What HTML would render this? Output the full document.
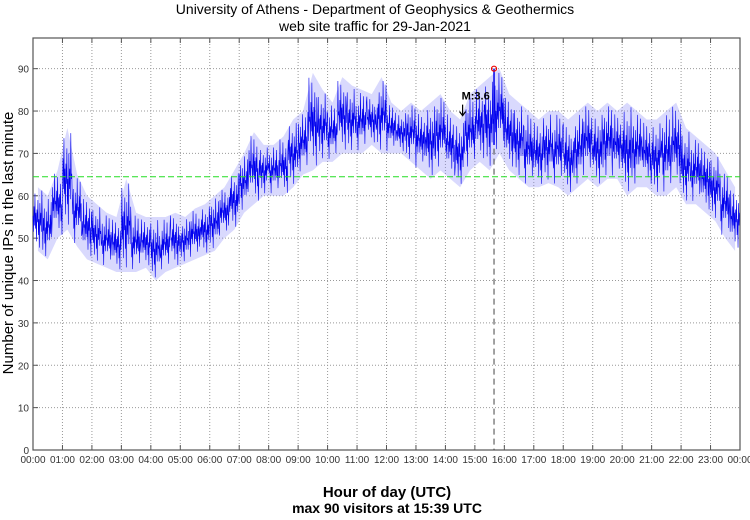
<!DOCTYPE html>
<html><head><meta charset="utf-8"><style>
body{margin:0;background:#fff;width:750px;height:515px;overflow:hidden;font-family:"Liberation Sans",sans-serif}
</style></head><body>
<svg id="chart" width="750" height="515" xmlns="http://www.w3.org/2000/svg">
<text x="375" y="14" font-size="14" text-anchor="middle" fill="#000">University of Athens - Department of Geophysics &amp; Geothermics</text>
<text x="375" y="31" font-size="14" text-anchor="middle" fill="#000">web site traffic for 29-Jan-2021</text>
<text transform="translate(13,243) rotate(-90)" font-size="15" text-anchor="middle">Number of unique IPs in the last minute</text>
<text x="387" y="497" font-size="15" font-weight="bold" text-anchor="middle">Hour of day (UTC)</text>
<text x="387" y="513" font-size="14" font-weight="bold" text-anchor="middle">max 90 visitors at 15:39 UTC</text>
<g id="grid"></g><g id="series"></g><g id="overlay"></g>
</svg>
<script>
const binLow=[47,45,50,52,48,45,44,43,42,42,42,43,40,42,43,44,45,46,47,50,52,56,58,60,60,60,62,65,66,68,68,70,70,70,72,70,70,70,68,66,64,66,64,62,66,68,66,70,66,64,62,62,63,62,60,62,64,62,64,64,60,62,62,60,60,62,58,58,56,54,50,47];
const binHigh=[62,60,66,76,65,60,58,56,55,64,56,55,55,55,56,55,57,58,60,62,66,70,75,72,72,74,78,80,89,85,82,88,86,85,84,88,82,80,82,80,82,84,80,78,84,86,88,90,84,82,80,78,80,80,78,80,82,80,82,80,82,80,78,78,80,82,76,74,72,70,66,62];
const meanValue=64.5, maxValue=90, maxMinute=15*60+39;
const markerMinute=14*60+35, markerLabel="M:3.6";
const yTicks=[0,10,20,30,40,50,60,70,80,90];
const xTicks=["00:00","01:00","02:00","03:00","04:00","05:00","06:00","07:00","08:00","09:00","10:00","11:00","12:00","13:00","14:00","15:00","16:00","17:00","18:00","19:00","20:00","21:00","22:00","23:00","00:00"];
const L=33,R=740,T=38,B=450;
const x=m=>L+m/1440*(R-L);
const y=v=>B-v*4.237;
const NS="http://www.w3.org/2000/svg";
function mk(tag,attrs,parent){const e=document.createElementNS(NS,tag);for(const k in attrs)e.setAttribute(k,attrs[k]);parent.appendChild(e);return e;}
const g=document.getElementById('grid'),s=document.getElementById('series'),o=document.getElementById('overlay');
mk('rect',{x:L,y:T,width:R-L,height:B-T,fill:'none',stroke:'#555','stroke-width':1.2},g);
yTicks.forEach(v=>{
 if(v>0){const l=mk('line',{x1:L,x2:R,y1:y(v),y2:y(v),stroke:'#999','stroke-dasharray':'1,2'},g);
 }
 mk('line',{x1:L,x2:L+5,y1:y(v),y2:y(v),stroke:'#555'},g);
 const t=mk('text',{x:L-4,y:y(v)+4,'font-size':10,'text-anchor':'end',fill:'#333'},g);t.textContent=v;
 
});
xTicks.forEach((lab,i)=>{const xx=x(i*60);
 if(i>0&&i<24){const l=mk('line',{x1:xx,x2:xx,y1:T,y2:B,stroke:'#999','stroke-dasharray':'1,2'},g);
 }
 mk('line',{x1:xx,x2:xx,y1:B,y2:B-5,stroke:'#555'},g);mk('line',{x1:xx,x2:xx,y1:T,y2:T+5,stroke:'#555'},g);
 const t=mk('text',{x:xx,y:B+13,'font-size':10,'text-anchor':'middle',fill:'#333'},g);t.textContent=lab;
 
});
// band
const bw=1440/binLow.length;
let up=[],dn=[];
binHigh.forEach((v,i)=>up.push(x((i+0.5)*bw)+','+y(v)));
binLow.forEach((v,i)=>dn.unshift(x((i+0.5)*bw)+','+y(v)));
const band=mk('polygon',{points:up.concat(dn).join(' '),fill:'#8080f8',opacity:0.3},s);

// jitter shape (style pattern across each bin)
const shape=[0.55,0.3,0.7,0.4,0.9,0.35,0.6,0.15,0.65,0.45,0.8,0.25,0.5,0.05,0.75,0.4,0.6,0.3,0.95,0.5];
let pts=[];
binLow.forEach((lo,i)=>{const hi=binHigh[i];const n=20;
 for(let k=0;k<n;k++){const m=(i+k/n)*bw;const f=shape[(k+i*7)%shape.length];pts.push(x(m).toFixed(2)+','+y(lo+(hi-lo)*f).toFixed(2));}});
const line=mk('polyline',{points:pts.join(' '),fill:'none',stroke:'#0000ee','stroke-width':0.6},s);

const mean=mk('line',{x1:L,x2:R,y1:y(meanValue),y2:y(meanValue),stroke:'#22dd22','stroke-dasharray':'6,3','stroke-width':1},o);

const vl=mk('line',{x1:x(maxMinute),x2:x(maxMinute),y1:y(maxValue),y2:B,stroke:'#444','stroke-dasharray':'6,4'},o);

mk('line',{x1:x(maxMinute),x2:x(maxMinute),y1:y(maxValue),y2:y(72),stroke:'#0000ee','stroke-width':1.5},o);
const mc=mk('circle',{cx:x(maxMinute),cy:y(maxValue),r:2.5,fill:'none',stroke:'#e00','stroke-width':1.2},o);

const ml=mk('text',{x:x(markerMinute)-1,y:y(maxValue)+31,'font-size':11,'font-weight':'bold'},o);ml.textContent=markerLabel;

const ax=x(markerMinute), ay=y(maxValue)+36;
const ar=mk('path',{d:`M${ax},${ay} L${ax},${ay+11} M${ax-3},${ay+7} L${ax},${ay+11} L${ax+3},${ay+7}`,stroke:'#000','stroke-width':1.2,fill:'none'},o);

</script>
</body></html>
